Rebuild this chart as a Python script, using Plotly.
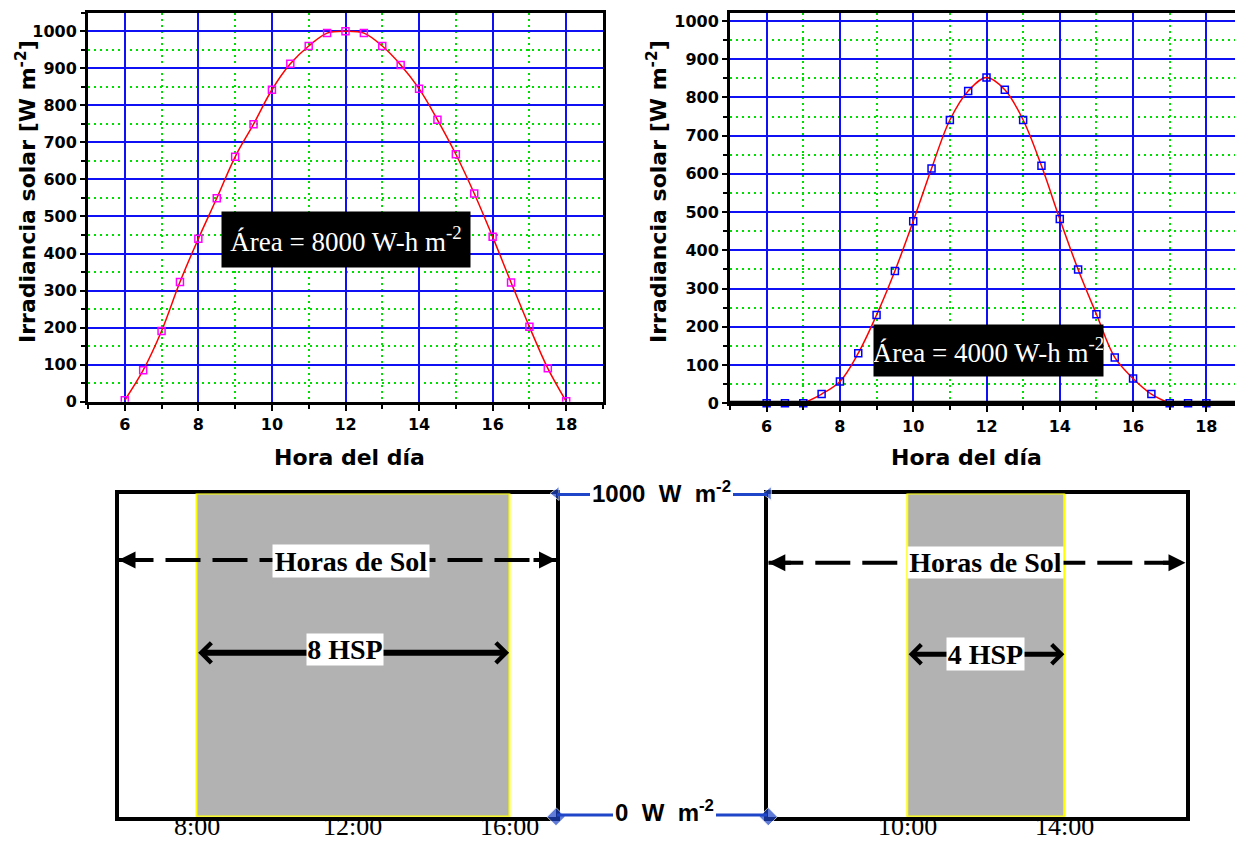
import plotly.graph_objects as go

# window is 1243x850; the page body keeps an 8px margin on every side,
# so the figure is sized to fit exactly inside it (no scrolling)
OFF = 8
W, H = 1243 - 2 * OFF, 850 - 2 * OFF

# ---------------- data ----------------
hours = [6, 6.5, 7, 7.5, 8, 8.5, 9, 9.5, 10, 10.5, 11, 11.5, 12,
         12.5, 13, 13.5, 14, 14.5, 15, 15.5, 16, 16.5, 17, 17.5, 18]
irr_clear = [4, 85, 191, 323, 440, 549, 661, 749, 842, 912, 960, 995, 1000,
             995, 960, 909, 845, 761, 668, 562, 445, 322, 202, 90, 1]
irr_cloudy = [0, 0, 0, 24, 57, 131, 231, 346, 476, 614, 741, 817, 852,
              820, 741, 621, 482, 350, 233, 120, 65, 24, 0, 0, 0]
cloudy_curve_span = [7, 17]          # fitted curve drawn only where irradiance > 0

x_major_ticks = [6, 8, 10, 12, 14, 16, 18]
x_minor_ticks = [5, 7, 9, 11, 13, 15, 17, 19]
y_major_ticks = [0, 100, 200, 300, 400, 500, 600, 700, 800, 900, 1000]
y_minor_ticks = [50, 150, 250, 350, 450, 550, 650, 750, 850, 950, 1050]

area_labels = ["Área = 8000 W-h m<sup>-2</sup>", "Área = 4000 W-h m<sup>-2</sup>"]
solar_noon = 12
hsp_values = [8, 4]
peak_irradiance = 1000
hsp_labels = ["8 HSP", "4 HSP"]
bottom_tick_vals = [[8, 12, 16], [10, 14]]
bottom_tick_text = [["8:00", "12:00", "16:00"], ["10:00", "14:00"]]


def px(x):
    return (x - OFF) / W


def py(y):
    return 1 - (y - OFF) / H


BLUE = "#1010f5"
GREEN = "#00dd00"
CONN = "#1f45c8"
SANS = "DejaVu Sans"
SERIF = "Liberation Serif, Times New Roman, serif"
ARIAL = "Liberation Sans, Arial, sans-serif"

fig = go.Figure()

# ---- top-left: clear day ----
fig.add_trace(go.Scatter(x=hours, y=irr_clear, mode="lines",
                         line=dict(color="#ff0000", width=1.5, shape="spline"),
                         xaxis="x", yaxis="y", hoverinfo="skip"))
fig.add_trace(go.Scatter(x=hours, y=irr_clear, mode="markers",
                         marker=dict(symbol="square-open", size=7, color="#ff00ff",
                                     line=dict(width=1.5)),
                         xaxis="x", yaxis="y"))

# ---- top-right: day with lower irradiance ----
cx = [h for h in hours if cloudy_curve_span[0] <= h <= cloudy_curve_span[1]]
cy = [v for h, v in zip(hours, irr_cloudy) if cloudy_curve_span[0] <= h <= cloudy_curve_span[1]]
fig.add_trace(go.Scatter(x=cx, y=cy, mode="lines",
                         line=dict(color="#ff0000", width=1.5, shape="spline", smoothing=1.0),
                         xaxis="x2", yaxis="y2", hoverinfo="skip"))
fig.add_trace(go.Scatter(x=hours, y=irr_cloudy, mode="markers",
                         marker=dict(symbol="square-open", size=7, color="#0000ff",
                                     line=dict(width=1.5)),
                         xaxis="x2", yaxis="y2", cliponaxis=False))

# ---- bottom: peak-sun-hour rectangles ----
for i, (xa, ya) in enumerate([("x3", "y3"), ("x4", "y4")]):
    fig.add_trace(go.Bar(x=[solar_noon], y=[peak_irradiance], width=[hsp_values[i]],
                         marker=dict(color="#b2b2b2", line=dict(color="#ffff00", width=2)),
                         xaxis=xa, yaxis=ya, hoverinfo="skip"))

x3_range = [6, 17.2]
x4_range = [6.47, 17.08]
dash_levels = [794, 786]
for (xa, ya), rng, lev in zip([("x3", "y3"), ("x4", "y4")], [x3_range, x4_range], dash_levels):
    fig.add_trace(go.Scatter(x=rng, y=[lev, lev], mode="lines",
                             line=dict(color="black", width=4, dash="35px,12px"),
                             xaxis=xa, yaxis=ya, hoverinfo="skip", cliponaxis=False))

# connector markers at the box edges
fig.add_trace(go.Scatter(x=[x3_range[1], x3_range[1]], y=[0, peak_irradiance], mode="markers",
                         marker=dict(symbol=["diamond", "triangle-left"], size=[14, 12], color=CONN),
                         xaxis="x3", yaxis="y3", cliponaxis=False, hoverinfo="skip"))
fig.add_trace(go.Scatter(x=[x4_range[0], x4_range[0]], y=[0, peak_irradiance], mode="markers",
                         marker=dict(symbol=["diamond", "triangle-left"], size=[14, 12], color=CONN),
                         xaxis="x4", yaxis="y4", cliponaxis=False, hoverinfo="skip"))

tickfont = dict(family=SANS, size=16, color="black", weight="bold")


def top_x(domain, rng):
    return dict(domain=domain, range=rng, tickmode="array", tickvals=x_major_ticks,
                ticks="outside", ticklen=6, tickwidth=1.5, tickcolor="black",
                showgrid=True, gridcolor=BLUE, gridwidth=2, zeroline=False,
                showline=True, linecolor="black", linewidth=3, mirror=True,
                tickfont=tickfont, automargin=False,
                minor=dict(tickmode="array", tickvals=x_minor_ticks, ticks="outside",
                           ticklen=4, tickwidth=1.5, tickcolor="black", showgrid=True,
                           gridcolor=GREEN, gridwidth=1.5, griddash="2px,4px"))


def top_y(domain, rng, mirror):
    return dict(domain=domain, range=rng, tickmode="array", tickvals=y_major_ticks,
                ticks="outside", ticklen=5, tickwidth=1.5, tickcolor="black",
                showgrid=True, gridcolor=BLUE, gridwidth=2, zeroline=False,
                showline=True, linecolor="black", linewidth=3, mirror=mirror,
                tickfont=tickfont, automargin=False,
                minor=dict(tickmode="array", tickvals=y_minor_ticks, ticks="outside",
                           ticklen=4, tickwidth=1.5, tickcolor="black", showgrid=True,
                           gridcolor=GREEN, gridwidth=1.5, griddash="2px,4px"))


def bot_x(domain, rng):
    return dict(domain=domain, range=rng, showticklabels=False, ticks="",
                showgrid=False, zeroline=False, showline=True, automargin=False,
                linecolor="black", linewidth=4, mirror=True, layer="below traces")


def bot_y(domain):
    return dict(domain=domain, range=[0, peak_irradiance], showticklabels=False, ticks="",
                showgrid=False, zeroline=False, showline=True, linecolor="black",
                linewidth=4, mirror=True, layer="below traces", automargin=False)


bot_dom_y = [py(816.7), py(493.5)]

annotations = []


def text_ann(text, xp, yp, size, family, angle=0, color="black"):
    annotations.append(dict(text=text, x=px(xp), y=py(yp), xref="paper", yref="paper",
                            showarrow=False, textangle=angle, xanchor="center", yanchor="middle",
                            font=dict(family=family, size=size, color=color)))


# axis titles
text_ann("<b>Hora del día</b>", 349, 457, 22, SANS)
text_ann("<b>Hora del día</b>", 966, 457, 22, SANS)
text_ann("<b>Irradiancia solar [W m<sup>-2</sup>]</b>", 26, 192, 22, SANS, angle=-90)
text_ann("<b>Irradiancia solar [W m<sup>-2</sup>]</b>", 657, 192, 22, SANS, angle=-90)

# time labels under the bottom boxes
for xa, vals, texts in [("x3", bottom_tick_vals[0], bottom_tick_text[0]),
                        ("x4", bottom_tick_vals[1], bottom_tick_text[1])]:
    for v, t in zip(vals, texts):
        annotations.append(dict(text=t, x=v, xref=xa, y=py(842), yref="paper", showarrow=False,
                                xanchor="center", yanchor="bottom", borderpad=0,
                                font=dict(family=SERIF, size=26, color="black")))

# area boxes
annotations.append(dict(text=area_labels[0], x=12.0, y=438, xref="x", yref="y", showarrow=False,
                        bgcolor="black", width=248, height=55, borderpad=0,
                        font=dict(family=SERIF, size=27, color="white")))
annotations.append(dict(text=area_labels[1], x=12.06, y=138, xref="x2", yref="y2", showarrow=False,
                        bgcolor="black", width=229, height=51, borderpad=0,
                        font=dict(family=SERIF, size=27, color="white")))

# dashed arrow heads (Horas de Sol)
for xa, ya, rng, lev in [("x3", "y3", x3_range, dash_levels[0]), ("x4", "y4", x4_range, dash_levels[1])]:
    for xe, off in [(rng[0], 24), (rng[1], -24)]:
        annotations.append(dict(text="", x=xe, y=lev, xref=xa, yref=ya, ax=off, ay=0,
                                showarrow=True, arrowhead=2, arrowwidth=4, arrowsize=0.85,
                                arrowcolor="black"))

# solid double arrows (HSP)
hsp_levels = [507, 503]
for i, (xa, ya) in enumerate([("x3", "y3"), ("x4", "y4")]):
    annotations.append(dict(text="", x=solar_noon + hsp_values[i] / 2, y=hsp_levels[i],
                            ax=solar_noon - hsp_values[i] / 2, ay=hsp_levels[i],
                            xref=xa, yref=ya, axref=xa, ayref=ya, showarrow=True,
                            arrowside="end+start", arrowhead=4, arrowwidth=6 if i == 0 else 5,
                            arrowsize=0.65 if i == 0 else 0.75, arrowcolor="black"))

# labels on white boxes
annotations.append(dict(text="<b>Horas de Sol</b>", x=solar_noon - 0.05, y=792, xref="x3", yref="y3",
                        showarrow=False, bgcolor="white", width=156, height=32, borderpad=0,
                        font=dict(family=SERIF, size=28, color="black")))
annotations.append(dict(text="<b>Horas de Sol</b>", x=solar_noon, y=785, xref="x4", yref="y4",
                        showarrow=False, bgcolor="white", width=155, height=31, borderpad=0,
                        font=dict(family=SERIF, size=28, color="black")))
annotations.append(dict(text="<b>" + hsp_labels[0] + "</b>", x=solar_noon - 0.2, y=518, xref="x3",
                        yref="y3", showarrow=False, bgcolor="white", width=76, height=31,
                        borderpad=0, font=dict(family=SERIF, size=28, color="black")))
annotations.append(dict(text="<b>" + hsp_labels[1] + "</b>", x=solar_noon, y=503, xref="x4",
                        yref="y4", showarrow=False, bgcolor="white", width=77, height=32,
                        borderpad=0, font=dict(family=SERIF, size=28, color="black")))

# irradiance level labels between the boxes
text_ann("<b>1000 &nbsp;W &nbsp;m<sup>-2</sup></b>", 661, 492, 24, ARIAL)
text_ann("<b>0 &nbsp;W &nbsp;m<sup>-2</sup></b>", 664, 811, 24, ARIAL)

shapes = []
for (x0, x1, yy) in [(557, 590, 494.5), (733, 767, 494.5), (557, 613, 815), (716, 767, 815)]:
    shapes.append(dict(type="line", xref="paper", yref="paper", x0=px(x0), x1=px(x1),
                       y0=py(yy), y1=py(yy), line=dict(color=CONN, width=3)))

right_edge = 1243 - OFF
x2_max = 5 + (right_edge - 730) / ((1243 - 730) / 14)
# thick baseline of the right chart
shapes.append(dict(type="line", xref="x2", yref="y2", x0=5, x1=x2_max, y0=0, y1=0,
                   line=dict(color="black", width=5), layer="above"))

fig.update_layout(
    width=W, height=H, margin=dict(l=0, r=0, t=0, b=0, autoexpand=False),
    paper_bgcolor="white", plot_bgcolor="white", showlegend=False,
    bargap=0,
    xaxis=top_x([px(88), px(603)], [5, 19]),
    yaxis=top_y([py(401.7), py(12.7)], [0, 1050], True),
    xaxis2=top_x([px(730), 1.0], [5, x2_max]),
    yaxis2=top_y([py(403.3), py(13.3)], [0, 1020], False),
    xaxis3=bot_x([px(118.5), px(556)], x3_range),
    yaxis3=bot_y(bot_dom_y),
    xaxis4=bot_x([px(768.3), px(1185.5)], x4_range),
    yaxis4=bot_y(bot_dom_y),
    annotations=annotations,
    shapes=shapes,
)
fig.update_layout(xaxis2_anchor="y2", yaxis2_anchor="x2", xaxis3_anchor="y3",
                  yaxis3_anchor="x3", xaxis4_anchor="y4", yaxis4_anchor="x4")

fig.write_html("out.html", config={"displayModeBar": False})
